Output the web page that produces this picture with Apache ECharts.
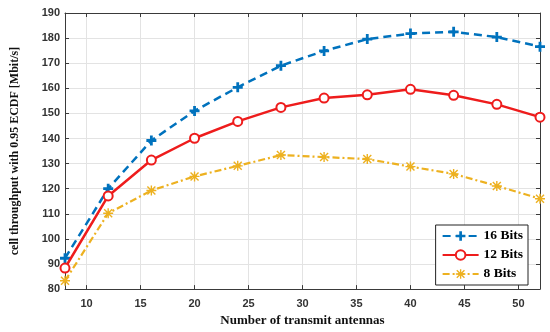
<!DOCTYPE html>
<html>
<head>
<meta charset="utf-8">
<script src="https://cdn.jsdelivr.net/npm/echarts@6/dist/echarts.min.js"></script>
<style>html,body{margin:0;padding:0;background:#fff}#c{width:550px;height:332px}</style>
</head>
<body>
<div id="c"></div>
<script>
const antennas = [8, 12, 16, 20, 24, 28, 32, 36, 40, 44, 48, 52];
const bits16 = [92.3, 120, 139.2, 151, 160.4, 169, 174.9, 179.6, 181.8, 182.5, 180.4, 176.6];
const bits12 = [88.4, 117.1, 131.4, 140.1, 146.8, 152.4, 156.1, 157.4, 159.6, 157.2, 153.6, 148.5];
const bits8  = [83.3, 110.2, 119.3, 124.9, 129.1, 133.4, 132.6, 131.8, 128.8, 125.9, 121.1, 116];
const xTicks = [10, 15, 20, 25, 30, 35, 40, 45, 50];
const seriesNames = ['16 Bits', '12 Bits', '8 Bits'];

const toPairs = arr => antennas.map((x, i) => [x, arr[i]]);
const plusPath = 'path://M3.6,0H6.4V3.6H10V6.4H6.4V10H3.6V6.4H0V3.6H3.6Z';
const starPath = 'path://M0,4.3H10V5.7H0Z M4.3,0H5.7V10H4.3Z M1.5,0.5L9.5,8.5L8.5,9.5L0.5,1.5Z M8.5,0.5L9.5,1.5L1.5,9.5L0.5,8.5Z';

const serif = '"Liberation Serif","Times New Roman",serif';
const sans = '"Liberation Sans",Arial,sans-serif';
const axisCol = '#3a3a3a';
const red = '#ee1c1c';

const chart = echarts.init(document.getElementById('c'), null, {renderer: 'canvas'});
chart.setOption({
  backgroundColor: '#fff',
  animation: false,
  grid: {left: 65, right: 10, top: 13, bottom: 38, containLabel: false},
  legend: {
    right: 22, top: 225, orient: 'vertical',
    itemWidth: 36, itemHeight: 12, itemGap: 5,
    padding: [4, 5, 4, 6],
    backgroundColor: '#fff', borderColor: '#222', borderWidth: 1,
    textStyle: {fontFamily: serif, fontWeight: 'bold', fontSize: 13.5, color: '#000'},
    data: seriesNames
  },
  xAxis: [{
    type: 'value', min: 8, max: 52,
    name: 'Number of transmit antennas', nameLocation: 'middle', nameGap: 20,
    nameTextStyle: {fontFamily: serif, fontWeight: 'bold', fontSize: 13, color: '#111'},
    axisLine: {show: true, lineStyle: {color: axisCol, width: 1}},
    axisTick: {show: true, inside: true, length: 4, customValues: xTicks, lineStyle: {color: axisCol}},
    axisLabel: {customValues: xTicks, fontFamily: sans, fontWeight: 'bold', fontSize: 11, color: '#333', margin: 9},
    splitLine: {show: true, lineStyle: {color: '#e3e3e3', width: 1}}
  }, {
    type: 'value', min: 8, max: 52, position: 'top',
    axisLine: {show: true, lineStyle: {color: axisCol, width: 1}},
    axisTick: {show: true, inside: true, length: 4, customValues: xTicks, lineStyle: {color: axisCol}},
    axisLabel: {show: false}, splitLine: {show: false}
  }],
  yAxis: [{
    type: 'value', min: 80, max: 190, interval: 10,
    name: 'cell throughput with 0.95 ECDF [Mbit/s]', nameLocation: 'middle', nameGap: 44,
    nameTextStyle: {fontFamily: serif, fontWeight: 'bold', fontSize: 12, color: '#111'},
    axisLine: {show: true, lineStyle: {color: axisCol, width: 1}},
    axisTick: {show: true, inside: true, length: 4, lineStyle: {color: axisCol}},
    axisLabel: {fontFamily: sans, fontWeight: 'bold', fontSize: 11, color: '#333', margin: 5},
    splitLine: {show: true, lineStyle: {color: '#e3e3e3', width: 1}}
  }, {
    type: 'value', min: 80, max: 190, interval: 10, position: 'right',
    axisLine: {show: true, lineStyle: {color: axisCol, width: 1}},
    axisTick: {show: true, inside: true, length: 4, lineStyle: {color: axisCol}},
    axisLabel: {show: false}, splitLine: {show: false}
  }],
  series: [{
    name: seriesNames[0], type: 'line', data: toPairs(bits16),
    symbol: plusPath, symbolSize: 10, color: '#0072BD',
    lineStyle: {width: 2.5, type: [8, 5], color: '#0072BD'},
    itemStyle: {color: '#0072BD'}, z: 3
  }, {
    name: seriesNames[1], type: 'line', data: toPairs(bits12),
    symbol: 'emptyCircle', symbolSize: 9, color: red,
    lineStyle: {width: 2.5, color: red},
    itemStyle: {color: red, borderColor: red, borderWidth: 2}, z: 4
  }, {
    name: seriesNames[2], type: 'line', data: toPairs(bits8),
    symbol: starPath, symbolSize: 10, color: '#EDB120',
    lineStyle: {width: 2.2, type: [7, 3, 2, 3], color: '#EDB120'},
    itemStyle: {color: '#EDB120'}, z: 2
  }]
});
</script>
</body>
</html>
